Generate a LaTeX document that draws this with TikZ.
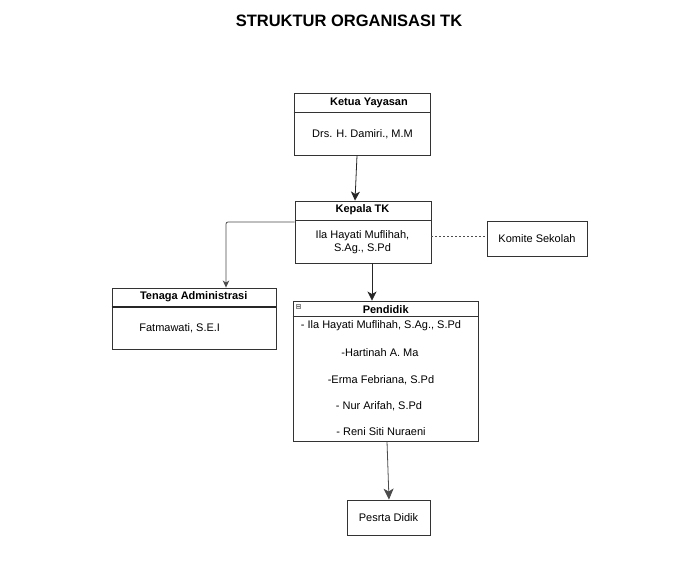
\documentclass[tikz,border=0pt]{standalone}
\usepackage{fontspec}
\setmainfont{Liberation Sans}
\usetikzlibrary{arrows.meta}
\begin{document}
\begin{tikzpicture}[x=1pt,y=-1pt,
  every node/.style={font=\fontsize{11}{13}\selectfont, inner sep=0pt, text=black},
  box/.style={draw=black!80, line width=0.9pt, rectangle},
  ttl/.style={font=\fontsize{11}{13}\selectfont\bfseries},
  divline/.style={draw=black!80, line width=0.9pt},
  arr/.style={draw=black!85, line width=0.8pt, -{Stealth[length=9pt,width=9pt,inset=2.5pt]}},
  arrbig/.style={draw=black!70, line width=0.8pt, -{Stealth[length=11pt,width=10pt,inset=3pt]}},
  arrsmall/.style={draw=black!70, line width=0.8pt, -{Stealth[length=7pt,width=6.5pt,inset=2pt]}},
  conn/.style={draw=black!70, line width=0.8pt}]
\useasboundingbox[fill=white] (0,0) rectangle (683,580);
% title
\node[font=\fontsize{16.5}{19}\selectfont\bfseries] (title) at (349,21) {STRUKTUR ORGANISASI TK};
% Ketua Yayasan
\node[box, minimum width=136pt, minimum height=62pt] (ky) at (362,124) {};
\draw[divline] (ky.west |- 0,112) -- (ky.east |- 0,112);
\node[ttl] (kyt) at (369,103) {Ketua Yayasan};
\node (kyb) at (362.5,134) {Drs. H. Damiri., M.M};
% Kepala TK
\node[box, minimum width=136pt, minimum height=62pt] (kp) at (363,232) {};
\draw[divline] (kp.west |- 0,220) -- (kp.east |- 0,220);
\node[ttl] (kpt) at (362.5,210) {Kepala TK};
\node[align=center] (kpb) at (362.5,242.5) {Ila Hayati Muflihah,\\S.Ag., S.Pd};
% Komite
\node[box, minimum width=100pt, minimum height=35pt] (ks) at (537,238.5) {Komite Sekolah};
% Tenaga Administrasi
\node[box, minimum width=164pt, minimum height=61pt] (ta) at (194,318.5) {};
\draw[draw=black!85, line width=1.8pt] (ta.west |- 0,307) -- (ta.east |- 0,307);
\node[ttl] (tat) at (193.7,296.5) {Tenaga Administrasi};
\node (tab) at (179.7,328) {Fatmawati, S.E.I};
% Pendidik
\node[box, minimum width=185pt, minimum height=140pt] (pd) at (385.5,371) {};
\draw[divline] (pd.west |- 0,316) -- (pd.east |- 0,316);
\node[draw=black!45, fill=black!8, line width=0.5pt, minimum size=4pt] (pdicon) at (298.5,306) {};
\draw[black!55, line width=0.5pt] ([xshift=-1.2pt]pdicon.center) -- ([xshift=1.2pt]pdicon.center);
\node[ttl] (pdt) at (385.7,309.5) {Pendidik};
\node (p1) at (381,326) {- Ila Hayati Muflihah, S.Ag., S.Pd};
\node (p2) at (380,353) {-Hartinah A. Ma};
\node (p3) at (381,380) {-Erma Febriana, S.Pd};
\node (p4) at (379,406.5) {- Nur Arifah, S.Pd};
\node (p5) at (381,432) {- Reni Siti Nuraeni};
% Pesrta Didik
\node[box, minimum width=83pt, minimum height=35pt] (ps) at (388.5,517.5) {Pesrta Didik};
% connectors
\draw[arr] (ky.south -| 357,0) -- (kp.north -| 355,0);
\draw[arr] (kp.south -| 372,0) -- (pd.north -| 372,0);
\draw[conn, dashed, dash pattern=on 2pt off 2pt] (kp.east |- 0,236) -- (ks.west |- 0,236);
\coordinate (corner) at (226,222);
\draw[arrsmall, rounded corners=2pt] (kp.west |- 0,222) -- (corner) -- (ta.north -| 226,0);
\draw[arrbig] (pd.south -| 387,0) -- (ps.north -| 389,0);
\end{tikzpicture}
\end{document}
